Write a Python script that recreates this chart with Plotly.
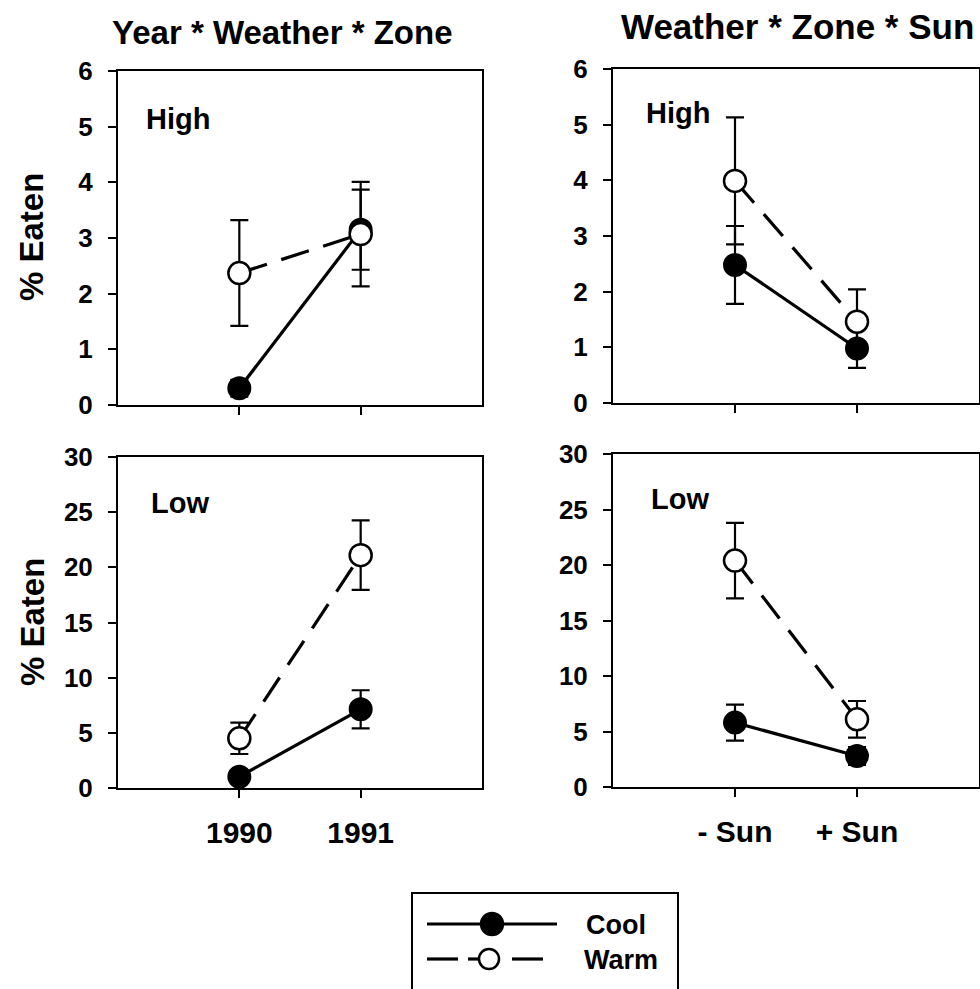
import plotly.graph_objects as go

# ---------------- data ----------------
years = ["1990", "1991"]
sun = ["- Sun", "+ Sun"]

# Year * Weather * Zone
high_year_cool = [0.30, 3.15]
high_year_cool_err = [0.15, 0.72]
high_year_warm = [2.37, 3.07]
high_year_warm_err = [0.95, 0.94]
low_year_cool = [1.03, 7.13]
low_year_cool_err = [0.30, 1.73]
low_year_warm = [4.50, 21.1]
low_year_warm_err = [1.42, 3.15]

# Weather * Zone * Sun
high_sun_cool = [2.48, 0.98]
high_sun_cool_err = [0.70, 0.35]
high_sun_warm = [3.99, 1.46]
high_sun_warm_err = [1.14, 0.58]
low_sun_cool = [5.80, 2.79]
low_sun_cool_err = [1.62, 0.80]
low_sun_warm = [20.4, 6.10]
low_sun_warm_err = [3.40, 1.65]

W, H = 980, 989
FONT = "Liberation Sans"


def px(x):
    return x / W


def py(y):
    return 1 - y / H


fig = go.Figure()


def add_pair(xcats, cool, cool_err, warm, warm_err, xa, ya):
    fig.add_trace(go.Scatter(
        x=xcats, y=cool, xaxis=xa, yaxis=ya, mode="lines+markers",
        line=dict(color="black", width=3.2),
        marker=dict(size=22, color="black", line=dict(color="black", width=2)),
        error_y=dict(type="data", array=cool_err, visible=True,
                     color="black", thickness=2.2, width=9),
        cliponaxis=False, showlegend=False))
    fig.add_trace(go.Scatter(
        x=xcats, y=warm, xaxis=xa, yaxis=ya, mode="lines+markers",
        line=dict(color="black", width=3.2, dash="29px,15px"),
        marker=dict(size=22, color="white", line=dict(color="black", width=2.5)),
        error_y=dict(type="data", array=warm_err, visible=True,
                     color="black", thickness=2.2, width=9),
        cliponaxis=False, showlegend=False))


add_pair(years, high_year_cool, high_year_cool_err, high_year_warm, high_year_warm_err, "x", "y")
add_pair(years, low_year_cool, low_year_cool_err, low_year_warm, low_year_warm_err, "x2", "y2")
add_pair(sun, high_sun_cool, high_sun_cool_err, high_sun_warm, high_sun_warm_err, "x3", "y3")
add_pair(sun, low_sun_cool, low_sun_cool_err, low_sun_warm, low_sun_warm_err, "x4", "y4")

tickfont = dict(family=FONT, size=26, color="black", weight="bold")
xtickfont = dict(family=FONT, size=30, color="black", weight="bold")


def xaxis(dom, cats, show_labels):
    return dict(domain=dom, type="category", categoryorder="array", categoryarray=cats,
                range=[-1, 2], showline=True, mirror=True, linecolor="black", linewidth=2,
                ticks="outside", ticklen=8, tickwidth=2, tickcolor="black",
                showticklabels=show_labels, tickfont=xtickfont, ticklabelstandoff=9,
                showgrid=False, zeroline=False, fixedrange=True, automargin=False)


def yaxis(dom, rng, dtick):
    return dict(domain=dom, range=rng, dtick=dtick, tick0=0, showline=True, mirror=True,
                linecolor="black", linewidth=2, ticks="outside", ticklen=8, tickwidth=2,
                tickcolor="black", tickfont=tickfont, ticklabelstandoff=10,
                showgrid=False, zeroline=False, fixedrange=True, automargin=False)


LX = [px(118), px(482)]
RX = [px(613), px(979)]
TY_L = [py(405), py(71)]
BY_L = [py(788), py(457)]
TY_R = [py(403), py(69)]
BY_R = [py(787), py(454)]

fig.update_layout(
    width=W, height=H, margin=dict(l=0, r=0, t=0, b=0, pad=0, autoexpand=False),
    paper_bgcolor="white", plot_bgcolor="white",
    xaxis=xaxis(LX, years, False) | dict(anchor="y"),
    yaxis=yaxis(TY_L, [0, 6], 1) | dict(anchor="x"),
    xaxis2=xaxis(LX, years, True) | dict(anchor="y2"),
    yaxis2=yaxis(BY_L, [0, 30], 5) | dict(anchor="x2"),
    xaxis3=xaxis(RX, sun, False) | dict(anchor="y3"),
    yaxis3=yaxis(TY_R, [0, 6], 1) | dict(anchor="x3"),
    xaxis4=xaxis(RX, sun, True) | dict(anchor="y4"),
    yaxis4=yaxis(BY_R, [0, 30], 5) | dict(anchor="x4"),
    showlegend=False,
)

annots = []


def text(x, y, s, size, xanchor="left", angle=0):
    annots.append(dict(xref="paper", yref="paper", x=px(x), y=py(y), text=s,
                       showarrow=False, xanchor=xanchor, yanchor="middle", textangle=angle,
                       font=dict(family=FONT, size=size, color="black", weight="bold")))


text(282, 32, "Year * Weather * Zone", 33, "center")
text(797, 26, "Weather * Zone * Sun", 35, "center")
text(32, 237, "% Eaten", 33, "center", -90)
text(32, 622, "% Eaten", 33, "center", -90)
text(144, 119, "High", 29)
text(644, 113, "High", 29)
text(149, 503, "Low", 29)
text(649, 499, "Low", 29)
text(584, 925, "Cool", 27)
text(582, 960, "Warm", 27)
fig.update_layout(annotations=annots)

shapes = []


def seg(x0, x1, y, width=3.2):
    shapes.append(dict(type="line", xref="paper", yref="paper", x0=px(x0), x1=px(x1),
                       y0=py(y), y1=py(y), line=dict(color="black", width=width)))


def circ(cx, cy, r, fill):
    shapes.append(dict(type="circle", xref="paper", yref="paper",
                       x0=px(cx - r), x1=px(cx + r), y0=py(cy + r), y1=py(cy - r),
                       fillcolor=fill, line=dict(color="black", width=2.5)))


# legend box
shapes.append(dict(type="rect", xref="paper", yref="paper", x0=px(412), x1=px(678),
                   y0=py(1000), y1=py(893), line=dict(color="black", width=2),
                   fillcolor="rgba(0,0,0,0)"))
seg(427, 557, 924)
circ(492, 924, 11, "black")
seg(427, 458, 959)
seg(468, 500, 959)
seg(512, 543, 959)
circ(489, 959, 10, "white")
fig.update_layout(shapes=shapes)

fig.write_html("out.html")
